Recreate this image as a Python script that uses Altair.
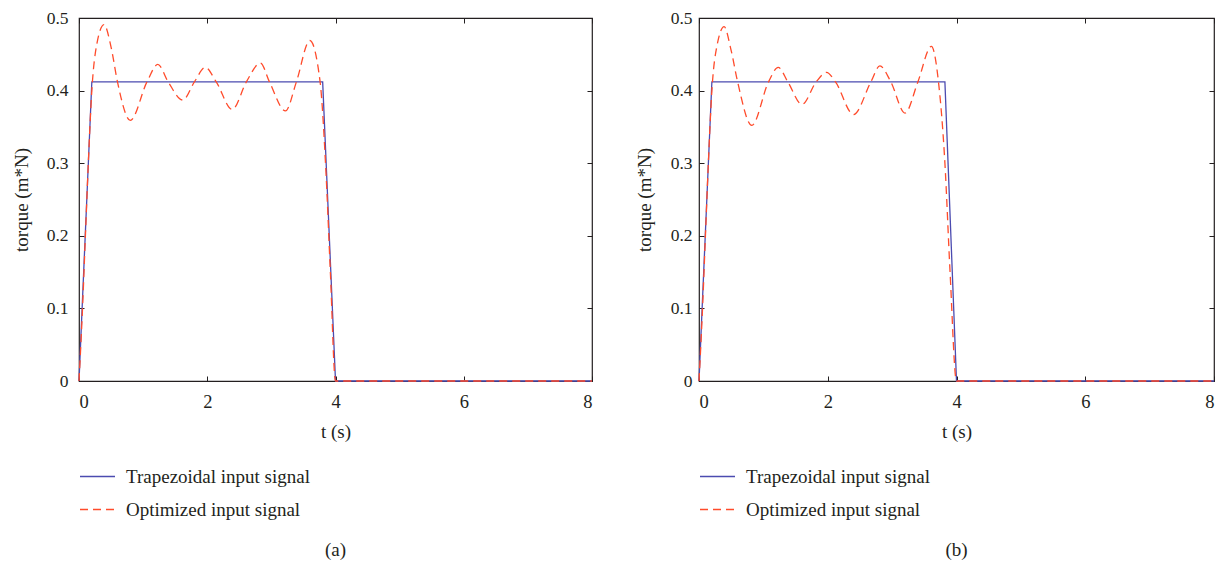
import altair as alt
import pandas as pd

FONT = "Liberation Serif"
TXT = "#231f20"
BLUE = "#4b4bb0"
RED = "#ff4b2b"

SERIES = ["Trapezoidal input signal", "Optimized input signal"]

# Panel (a)
trap_a_t = [0, 0.2, 3.8, 4.0, 8.0]
trap_a_v = [0, 0.412, 0.412, 0, 0]
opt_a_t = [0, 0.05, 0.1, 0.15, 0.2, 0.28, 0.39, 0.50, 0.60, 0.80, 1.06, 1.23, 1.39, 1.62, 1.80,
           1.97, 2.14, 2.39, 2.61, 2.83, 2.97, 3.22, 3.39, 3.60, 3.76, 3.85, 3.92, 4.0, 8.0]
opt_a_v = [0, 0.09, 0.20, 0.31, 0.40, 0.465, 0.491, 0.46, 0.412, 0.359, 0.412, 0.436, 0.412, 0.387, 0.412,
           0.432, 0.412, 0.374, 0.412, 0.438, 0.412, 0.372, 0.412, 0.469, 0.412, 0.29, 0.15, 0, 0]

# Panel (b)
trap_b_t = [0, 0.2, 3.82, 4.0, 8.0]
trap_b_v = [0, 0.412, 0.412, 0, 0]
opt_b_t = [0, 0.05, 0.1, 0.15, 0.2, 0.28, 0.39, 0.50, 0.60, 0.82, 1.08, 1.23, 1.38, 1.60, 1.82,
           1.98, 2.12, 2.40, 2.67, 2.81, 2.98, 3.20, 3.40, 3.61, 3.72, 3.82, 3.90, 4.0, 8.0]
opt_b_v = [0, 0.09, 0.20, 0.31, 0.40, 0.462, 0.488, 0.455, 0.412, 0.352, 0.412, 0.432, 0.412, 0.381, 0.412,
           0.425, 0.412, 0.367, 0.412, 0.434, 0.412, 0.369, 0.412, 0.461, 0.412, 0.30, 0.15, 0, 0]

x_ticks = [0, 2, 4, 6, 8]
y_ticks = [0, 0.1, 0.2, 0.3, 0.4, 0.5]

FS = 19
FS_X = 18.5
FS_Y = 17.5


def legend():
    return alt.Legend(title=None, orient="none", legendX=0, legendY=440,
                      direction="vertical", symbolType="stroke",
                      symbolSize=1225, symbolStrokeWidth=1.3,
                      labelFont=FONT, labelFontSize=FS, labelColor=TXT, labelLimit=500,
                      labelOffset=10, rowPadding=4, padding=0)


def panel(tt, tv, ot, ov, label, width, ylabpad, ytitlex):
    trap = pd.DataFrame({"t": tt, "v": tv, "series": SERIES[0]})
    opt = pd.DataFrame({"t": ot, "v": ov, "series": SERIES[1]})
    xs = alt.Scale(domain=[0, 8], nice=False)
    ys = alt.Scale(domain=[0, 0.5], nice=False)
    common_ax = dict(domain=False, grid=False, ticks=True, tickSize=5, offset=-5,
                     tickColor=TXT, tickWidth=1)
    xax = alt.Axis(orient="bottom", values=x_ticks, format="d", title="t (s)",
                   labelPadding=11, labelFontSize=FS_X, labelFont=FONT, labelColor=TXT,
                   titleFont=FONT, titleFontSize=FS, titleFontWeight="normal", titleColor=TXT,
                   titleBaseline="middle", titleY=55, **common_ax)
    yax = alt.Axis(orient="left", values=y_ticks, format="~g", title="torque (m*N)",
                   labelPadding=ylabpad, labelFontSize=FS_Y, labelFont=FONT, labelColor=TXT,
                   titleFont=FONT, titleFontSize=FS, titleFontWeight="normal", titleColor=TXT,
                   titleBaseline="middle", titleX=ytitlex, **common_ax)
    color = alt.Color("series:N", scale=alt.Scale(domain=SERIES, range=[BLUE, RED]), legend=legend())
    dash = alt.StrokeDash("series:N", scale=alt.Scale(domain=SERIES, range=[[1, 0], [8, 5]]),
                          legend=legend())
    l1 = alt.Chart(trap).mark_line(strokeWidth=1.3).encode(
        x=alt.X("t:Q", scale=xs, axis=xax), y=alt.Y("v:Q", scale=ys, axis=yax),
        color=color, strokeDash=dash)
    l2 = alt.Chart(opt).mark_line(strokeWidth=1.3, interpolate="monotone").encode(
        x=alt.X("t:Q", scale=xs, axis=xax), y=alt.Y("v:Q", scale=ys, axis=yax),
        color=color, strokeDash=dash)
    frame_ax = alt.Chart(trap).mark_line(opacity=0).encode(
        x=alt.X("t:Q", scale=xs, axis=alt.Axis(orient="top", values=x_ticks, labels=False, title=None,
                                                **common_ax)),
        y=alt.Y("v:Q", scale=ys, axis=alt.Axis(orient="right", values=y_ticks, labels=False, title=None,
                                                **common_ax)),
    )
    lines = alt.layer(l1, l2)
    return alt.layer(lines, frame_ax).resolve_axis(x="independent", y="independent").properties(
        width=width, height=363,
        title=alt.TitleParams(label, orient="bottom", anchor="middle", frame="group",
                              font=FONT, fontSize=FS, fontWeight="normal", color=TXT, offset=21),
    )


pa = panel(trap_a_t, trap_a_v, opt_a_t, opt_a_v, "(a)", 513, 11, -63)
pb = panel(trap_b_t, trap_b_v, opt_b_t, opt_b_v, "(b)", 515, 7, -60)

chart = alt.hconcat(pa, pb, spacing=38).resolve_scale(
    color="independent", strokeDash="independent"
).configure(padding={"left": 3, "top": 0, "right": 0, "bottom": 0}, font=FONT).configure_view(
    stroke=TXT, strokeWidth=1.2)

chart.save("out.html", embed_options={"renderer": "svg", "actions": False})
